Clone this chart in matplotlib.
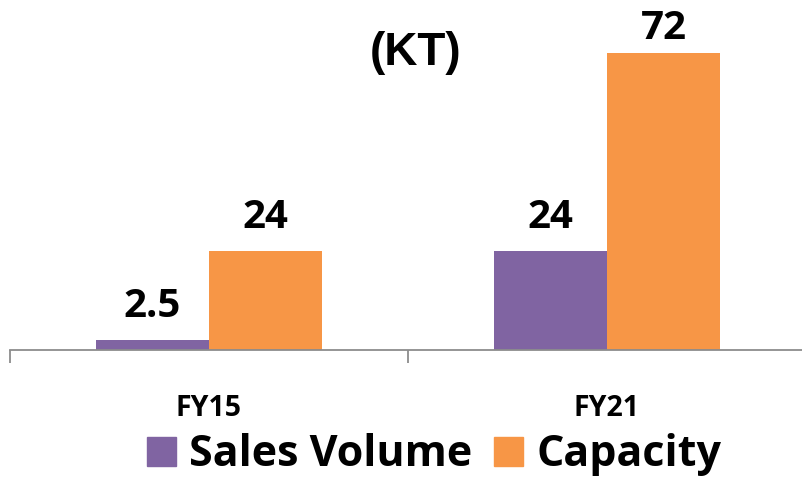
import matplotlib
matplotlib.use("Agg")
import matplotlib.pyplot as plt
import numpy as np
from matplotlib.patches import Patch

categories = ["FY15", "FY21"]
sales_volume = [2.5, 24]
capacity = [24, 72]
sales_labels = ["2.5", "24"]
capacity_labels = ["24", "72"]
unit_label = "(KT)"

PURPLE = "#8064A2"
ORANGE = "#F79646"
GRAY = "#8C8C8C"
FONT = "Open Sans"

fig = plt.figure(figsize=(8.02, 4.83), dpi=100)
W, H = 802, 483
base_y = 350
px_per_unit = 99 / 24
ax_left = 10
ax_width = 796
ax = fig.add_axes([ax_left / W, (H - base_y) / H, ax_width / W, base_y / H])
ax.set_xlim(-0.5, 1.5)
ymax = base_y / px_per_unit
ax.set_ylim(0, ymax)

x = np.arange(len(categories))
bw = 0.285
b1 = ax.bar(x - bw / 2, sales_volume, bw, color=PURPLE, label="Sales Volume")
b2 = ax.bar(x + bw / 2, capacity, bw, color=ORANGE, label="Capacity")

gap_px = 23
max_baseline_from_top = 39  # keep labels inside the figure
for rects, labels in ((b1, sales_labels), (b2, capacity_labels)):
    for r, lab in zip(rects, labels):
        top_px = r.get_height() * px_per_unit  # bar height in pixels
        avail = base_y - max_baseline_from_top - top_px
        off = min(gap_px, avail)
        ax.annotate(lab, (r.get_x() + r.get_width() / 2, r.get_height()),
                    xytext=(0, off), textcoords="offset pixels",
                    ha="center", va="baseline", fontsize=29,
                    fontweight="bold", family=FONT, color="black")

for s in ["top", "right", "left"]:
    ax.spines[s].set_visible(False)
ax.spines["bottom"].set_color(GRAY)
ax.spines["bottom"].set_linewidth(1.3)
ax.set_yticks([])
ax.set_xticks([-0.5, 0.5, 1.5])
ax.set_xticklabels([])
ax.tick_params(axis="x", length=9, width=1.3, color=GRAY, direction="out")

for i, cat in enumerate(categories):
    ax.annotate(cat, (x[i], 0), xycoords=("data", "axes fraction"),
                xytext=(0, -66), textcoords="offset pixels",
                ha="center", va="baseline", fontsize=20.5,
                fontweight="bold", family=FONT, annotation_clip=False)

fig.text(416 / W, 1 - 65 / H, unit_label, ha="center", va="baseline",
         fontsize=33, fontweight="bold", family="Liberation Sans")

handles = [Patch(color=PURPLE), Patch(color=ORANGE)]
leg = fig.legend(handles, ["Sales Volume", "Capacity"], loc="center",
                 bbox_to_anchor=(434 / W, 1 - 455 / H), ncol=2, frameon=False,
                 prop={"family": FONT, "size": 31, "weight": "bold"},
                 handlelength=0.68, handleheight=0.68, handletextpad=0.3,
                 columnspacing=0.5, borderpad=0, borderaxespad=0)

fig.savefig("out.png", dpi=100)
